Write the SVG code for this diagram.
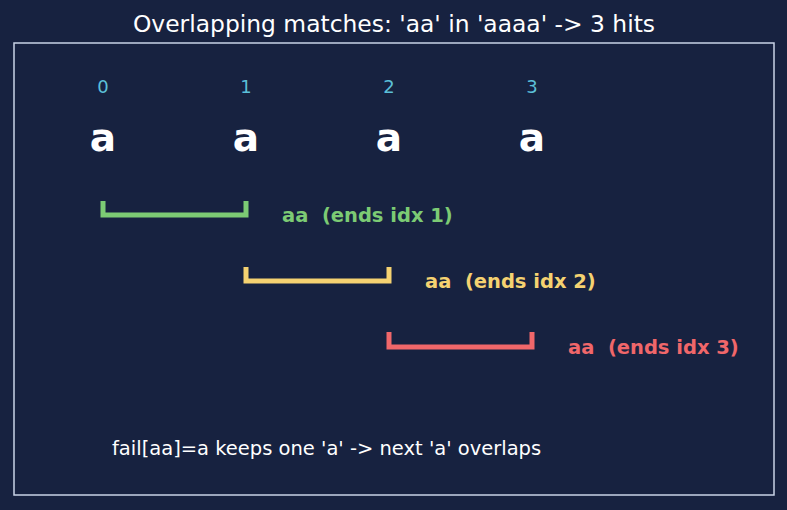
<svg xmlns="http://www.w3.org/2000/svg" width="787" height="510" viewBox="0 0 787 510">
<style>
.bg{fill:#172240}
.frame{fill:none;stroke:#c9d3e6;stroke-width:1.5}
.title{font-family:"DejaVu Sans",sans-serif;font-size:23.4px;fill:#ffffff;text-anchor:middle}
.idx{font-family:"DejaVu Sans",sans-serif;font-size:18px;fill:#5bbfd8;text-anchor:middle}
.ch{font-family:"DejaVu Sans",sans-serif;font-size:39px;font-weight:bold;fill:#ffffff;text-anchor:middle}
.br{fill:none;stroke-width:5;stroke-linecap:butt;stroke-linejoin:miter}
.lbl{font-family:"DejaVu Sans",sans-serif;font-size:19.5px;font-weight:bold;white-space:pre}
.note{font-family:"DejaVu Sans",sans-serif;font-size:19.5px;fill:#ffffff}
</style>
<rect class="bg" x="0" y="0" width="787" height="510"/>
<text class="title" x="394" y="32">Overlapping matches: 'aa' in 'aaaa' -&gt; 3 hits</text>
<rect class="frame" x="14" y="43" width="760" height="452"/>
<g id="chars">
<g id="c0"><text class="idx" x="103" y="93">0</text><text class="ch" x="103" y="151">a</text></g>
<g id="c1"><text class="idx" x="246" y="93">1</text><text class="ch" x="246" y="151">a</text></g>
<g id="c2"><text class="idx" x="389" y="93">2</text><text class="ch" x="389" y="151">a</text></g>
<g id="c3"><text class="idx" x="532" y="93">3</text><text class="ch" x="532" y="151">a</text></g>
</g>
<g id="connectors">
<g id="m1"><polyline class="br" stroke="#7ccb74" points="103,201 103,215 246,215 246,201"/><text class="lbl" fill="#7ccb74" x="282" y="222" xml:space="preserve">aa  (ends idx 1)</text></g>
<g id="m2"><polyline class="br" stroke="#f5d271" points="246,267 246,281 389,281 389,267"/><text class="lbl" fill="#f5d271" x="425" y="288" xml:space="preserve">aa  (ends idx 2)</text></g>
<g id="m3"><polyline class="br" stroke="#f0676a" points="389,332 389,347 532,347 532,332"/><text class="lbl" fill="#f0676a" x="568" y="354" xml:space="preserve">aa  (ends idx 3)</text></g>
</g>
<text class="note" x="112" y="455">fail[aa]=a keeps one 'a' -&gt; next 'a' overlaps</text>
</svg>
